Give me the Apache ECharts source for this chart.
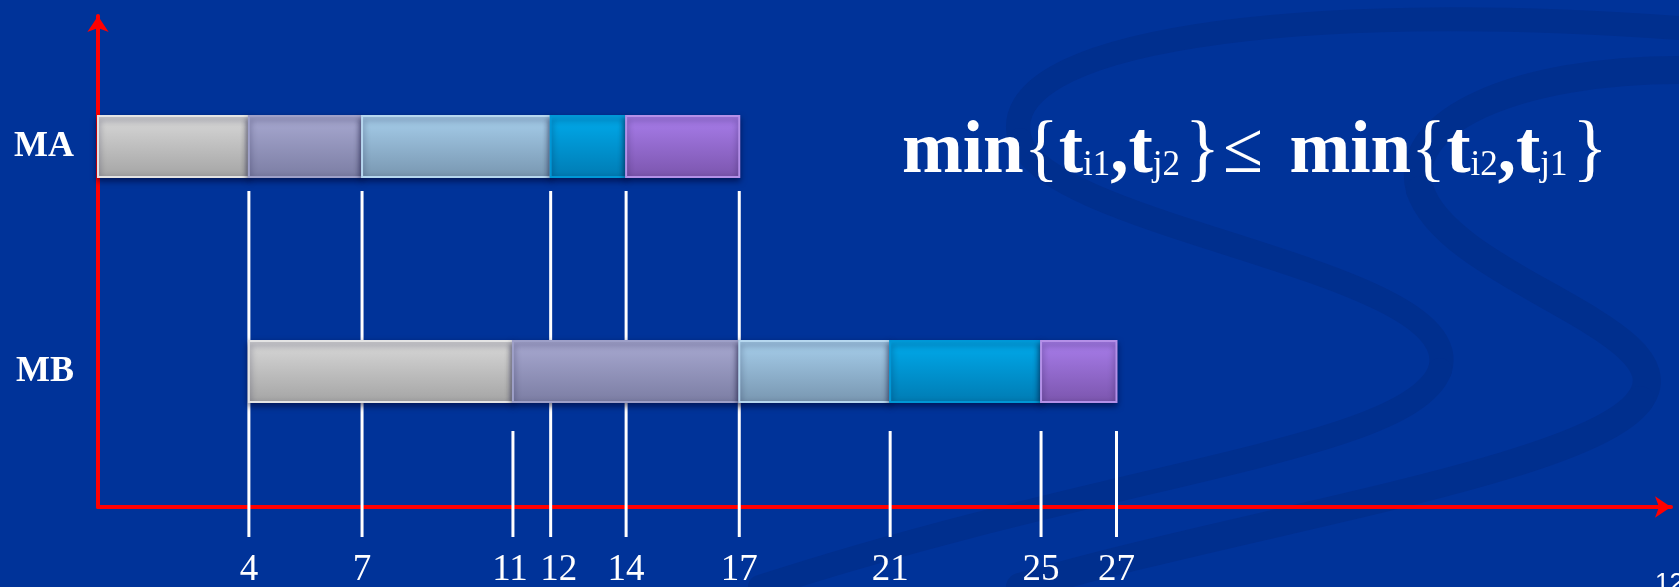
<!DOCTYPE html>
<html>
<head>
<meta charset="utf-8">
<script src="https://cdn.jsdelivr.net/npm/echarts@6/dist/echarts.min.js"></script>
<style>
html,body{margin:0;padding:0;background:#003399;overflow:hidden}
#c{width:1679px;height:587px}
</style>
</head>
<body>
<div id="c"></div>
<script>
// ---- data ----
const machines = ['MB', 'MA'];            // row 0 = MB (lower), row 1 = MA (upper)
const jobs = ['J1', 'J2', 'J3', 'J4', 'J5'];
const maStart = [0, 4, 7, 12, 14];
const maEnd   = [4, 7, 12, 14, 17];
const mbStart = [4, 11, 17, 21, 25];
const mbEnd   = [11, 17, 21, 25, 27];
const tickValues = [4, 7, 11, 12, 14, 17, 21, 25, 27];
const maTicks = [4, 7, 12, 14, 17];       // guide lines hanging below MA
const mbTicks = [11, 21, 25, 27];         // guide lines hanging below MB

// ---- styles ----
const jobColors = [
  ['#d9d9d9', '#a4a4a4', '#e4e4e4'],
  ['#a9aad2', '#7b7da3', '#9ea0c8'],
  ['#a7cfec', '#7896b0', '#b6d7ef'],
  ['#00abec', '#007bb3', '#0097d6'],
  ['#a97eec', '#7b55ad', '#b490e8']
];
const BAR_H = 0.271;
const tickGap = [29, 14];
const serif = '"Liberation Serif", "Times New Roman", serif';

const barData = [];
jobs.forEach((j, i) => {
  barData.push([1, maStart[i], maEnd[i], i]);
  barData.push([0, mbStart[i], mbEnd[i], i]);
});
const tickData = maTicks.map(v => [v, 1]).concat(mbTicks.map(v => [v, 0]));

function renderBar(params, api) {
  const row = api.value(0), s = api.value(1), e = api.value(2), j = api.value(3);
  const p1 = api.coord([s, row]);
  const p2 = api.coord([e, row]);
  const h = api.size([0, BAR_H])[1];
  const c = jobColors[j];
  return {
    type: 'rect',
    shape: { x: p1[0], y: p1[1] - h / 2, width: p2[0] - p1[0], height: h },
    style: {
      fill: new echarts.graphic.LinearGradient(0, 0, 0, 1, [
        { offset: 0, color: c[0] }, { offset: 1, color: c[1] }
      ]),
      stroke: c[2], lineWidth: 2,
      shadowBlur: 6, shadowOffsetY: 3, shadowColor: 'rgba(0,0,40,0.55)'
    }
  };
}

function renderTick(params, api) {
  const v = api.value(0), row = api.value(1);
  const p = api.coord([v, row]);
  const h = api.size([0, BAR_H])[1];
  const top = p[1] + h / 2 + tickGap[row];
  const bottom = params.coordSys.y + params.coordSys.height + 30;
  return {
    type: 'line',
    shape: { x1: p[0], y1: top, x2: p[0], y2: bottom },
    style: { stroke: '#ffffff', lineWidth: 3 }
  };
}

const formula =
  '{b|min}{' + '{b|t}{s|i1}{b|,}{b|t}{e|j2}' + '}' +
  '{r|≤ }{b|min}{' + '{b|t}{s|i2}{b|,}{b|t}{e|j1}' + '}';

const swirl = '#002f8e';
function band(pts, w) {
  return { type: 'bezierCurve', z: -10, silent: true,
    shape: { x1: pts[0], y1: pts[1], cpx1: pts[2], cpy1: pts[3], cpx2: pts[4], cpy2: pts[5], x2: pts[6], y2: pts[7] },
    style: { fill: null, stroke: swirl, lineWidth: w, lineCap: 'round' } };
}

const chart = echarts.init(document.getElementById('c'), null, { renderer: 'canvas' });
chart.setOption({
  backgroundColor: '#003399',
  animation: false,
  grid: { left: 98, right: 8, top: 16, bottom: 80, outerBoundsMode: 'none', containLabel: false },
  title: {
    left: 902, top: 113, padding: 0,
    text: formula,
    textStyle: {
      fontFamily: serif, fontSize: 73, fontWeight: 'normal', color: '#ffffff', lineHeight: 80,
      rich: {
        b: { fontFamily: serif, fontSize: 73, fontWeight: 'bold', color: '#ffffff', lineHeight: 80, verticalAlign: 'middle' },
        r: { fontFamily: serif, fontSize: 73, fontWeight: 'normal', color: '#ffffff', lineHeight: 80, verticalAlign: 'middle',
             padding: [0, 8, 0, 3] },
        s: { fontFamily: serif, fontSize: 35, fontWeight: 'normal', color: '#ffffff', verticalAlign: 'middle',
             padding: [26, 0, 0, 0] },
        e: { fontFamily: serif, fontSize: 35, fontWeight: 'normal', color: '#ffffff', verticalAlign: 'middle',
             padding: [26, 5, 0, 0] }
      }
    }
  },
  graphic: [
    band([1679, 28, 1300, 0, 990, 40, 1020, 140], 24),
    band([1020, 140, 1050, 230, 1470, 270, 1440, 370], 24),
    band([1440, 370, 1410, 450, 1120, 470, 760, 587], 24),
    band([1679, 70, 1520, 70, 1400, 120, 1420, 190], 28),
    band([1420, 190, 1450, 280, 1690, 330, 1640, 400], 28),
    band([1640, 400, 1590, 470, 1250, 520, 1020, 587], 28),
    { type: 'text', left: 1655, top: 571, silent: true,
      style: { text: '12', fill: '#ffffff', font: '26px "Liberation Sans", Arial, sans-serif' } }
  ],
  xAxis: {
    type: 'value', min: 0, max: 41.7,
    axisLine: { show: true, onZero: false, symbol: ['none', 'arrow'], symbolSize: [16, 16],
                lineStyle: { color: '#ff0000', width: 4 } },
    axisTick: { show: false },
    splitLine: { show: false },
    axisLabel: {
      customValues: tickValues, color: '#ffffff', fontFamily: serif, fontSize: 37, margin: 45,
      formatter: v => v === 11 ? '{l|11}' : v === 12 ? '{g|12}' : String(v),
      rich: {
        l: { fontFamily: serif, fontSize: 37, color: '#ffffff', padding: [0, 6, 0, 0] },
        g: { fontFamily: serif, fontSize: 37, color: '#ffffff', padding: [0, 0, 0, 16] }
      }
    }
  },
  yAxis: {
    type: 'value', min: -0.602, max: 1.58,
    axisLine: { show: true, onZero: false, symbol: ['none', 'arrow'], symbolSize: [16, 16],
                lineStyle: { color: '#ff0000', width: 4 } },
    axisTick: { show: false },
    splitLine: { show: false },
    axisLabel: {
      customValues: [0, 1],
      formatter: v => machines[Math.round(v)],
      color: '#ffffff', fontFamily: serif, fontSize: 36, fontWeight: 'bold', margin: 24
    }
  },
  series: [
    { type: 'custom', name: 'guides', z: 1, renderItem: renderTick, data: tickData,
      encode: { x: 0, y: 1 }, silent: true },
    { type: 'custom', name: 'jobs', z: 2, renderItem: renderBar, data: barData,
      encode: { x: [1, 2], y: 0 }, silent: true }
  ]
});
</script>
</body>
</html>
